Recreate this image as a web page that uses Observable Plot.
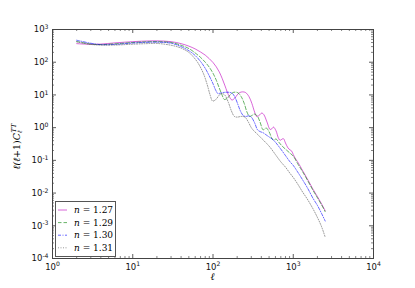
<!DOCTYPE html>
<html><head><meta charset="utf-8">
<script src="https://cdn.jsdelivr.net/npm/d3@7"></script>
<script src="https://cdn.jsdelivr.net/npm/@observablehq/plot@0.6"></script>
<style>
html,body{margin:0;padding:0;background:#fff;}
#wrap{position:relative;width:415px;height:288px;overflow:hidden;background:#fff;}
#wrap svg{position:absolute;left:0;top:0;}
</style></head><body><div id="wrap"></div>
<script>
// ---- data ----
const labels = ["1.27", "1.29", "1.30", "1.31"];
const colors = ["#bf00bf", "#008000", "#0000ff", "#555555"];
const dashes = [null, "3.5,2", "3,1.5,1,1.5", "1,1.5"];

const ell127 = [2,3,4,6,10,15,20,30,40,50,60,70,80,90,100,110,120,130,140,150,160,172,185,200,215,235,255,280,305,330,350,375,405,430,470,515,540,567,610,650,685,720,755,800,860,910,960,1000,1050,1100,1150,1300,1500,1750,2000,2250,2500];
const cl127  = [370,352,358,390,425,445,450,425,370,310,255,205,165,128,98,72,50,32,20,12.5,8.8,7.0,7.8,10,11.8,12.4,11.8,9,5.5,3.0,2.2,2.35,2.8,2.5,1.5,0.88,0.92,1.04,0.8,0.5,0.41,0.44,0.46,0.34,0.24,0.21,0.19,0.15,0.12,0.1,0.085,0.05,0.027,0.0135,0.0078,0.0047,0.0029];

const ell129 = [2,3,4,6,10,15,20,30,40,50,60,70,80,90,100,110,120,130,138,150,162,175,188,205,225,245,265,285,305,330,355,385,420,440,460,500,535,560,585,610,660,720,800,900,1000,1150,1300,1500,1750,2000,2250,2500];
const cl129  = [430,358,345,365,400,420,425,400,330,262,192,140,100,70,46,28,16,9.8,7.3,7.8,9.8,11.6,12.2,11.6,8.8,5.5,3.0,2.2,2.35,2.6,2.3,1.5,0.86,0.9,0.98,0.75,0.5,0.42,0.43,0.45,0.36,0.28,0.22,0.17,0.135,0.075,0.046,0.025,0.0125,0.0072,0.0044,0.0027];

const ell130 = [2,3,4,6,10,20,30,40,50,60,70,80,90,100,108,115,125,140,160,175,190,205,220,240,260,280,300,330,360,390,420,460,500,565,700,800,912,1000,1150,1300,1500,1770,2000,2250,2500];
const cl130  = [470,380,345,350,385,410,380,300,225,160,105,65,38,22,14,11,11.5,12,12,11,8,5,3.2,2.3,2.2,2.3,2.1,1.4,0.85,0.75,0.7,0.6,0.52,0.42,0.22,0.14,0.09,0.07,0.042,0.026,0.0145,0.0068,0.0042,0.0024,0.0014];

const ell131 = [2,3,4,6,10,15,20,30,40,50,57,65,76,85,92,99,110,120,130,140,155,170,185,200,225,250,275,300,320,360,410,465,515,600,700,800,912,1000,1150,1300,1500,1750,2000,2250,2500];
const cl131  = [420,350,335,335,355,370,375,330,270,200,145,95,45,20,10,6.5,7.5,10,11,10,6,3.2,2.2,2.1,2.2,2.1,1.5,1.0,0.82,0.62,0.45,0.33,0.25,0.15,0.09,0.062,0.04,0.03,0.018,0.011,0.0065,0.0034,0.0018,0.00095,0.00045];

const xMajor = [1, 10, 100, 1000, 10000];
const xMajorLabels = ["0", "1", "2", "3", "4"];
const yMajor = [1e-4, 1e-3, 1e-2, 1e-1, 1, 10, 100, 1000];
const yMajorLabels = ["-4", "-3", "-2", "-1", "0", "1", "2", "3"];

// ---- build ----
const W = 415, H = 288, mL = 52, mR = 42, mT = 29, mB = 30;
const iW = W - mL - mR, iH = H - mT - mB;
const ells = [ell127, ell129, ell130, ell131];
const cls = [cl127, cl129, cl130, cl131];
const series = ells.map((e, k) => e.map((l, i) => ({l, v: cls[k][i]})));

const xMinor = d3.scaleLog().domain([1, 1e4]).ticks().filter(t => !xMajor.includes(t));
const yMinor = d3.scaleLog().domain([1e-4, 1e3]).ticks().filter(t => !yMajor.some(m => Math.abs(m - t) / t < 1e-9));

const tickColor = "#333";
const marks = [];
series.forEach((s, k) => {
  marks.push(Plot.line(s, {x: "l", y: "v", stroke: colors[k], strokeOpacity: 0.6, strokeWidth: 1,
    strokeDasharray: dashes[k] || undefined, curve: "catmull-rom"}));
});
// inward ticks on all four sides
marks.push(
  Plot.ruleX(xMajor, {x: d => d, insetTop: iH - 4, stroke: tickColor, strokeWidth: 0.8}),
  Plot.ruleX(xMajor, {x: d => d, insetBottom: iH - 4, stroke: tickColor, strokeWidth: 0.8}),
  Plot.ruleX(xMinor, {x: d => d, insetTop: iH - 2, stroke: tickColor, strokeWidth: 0.6}),
  Plot.ruleX(xMinor, {x: d => d, insetBottom: iH - 2, stroke: tickColor, strokeWidth: 0.6}),
  Plot.ruleY(yMajor, {y: d => d, insetRight: iW - 4, stroke: tickColor, strokeWidth: 0.8}),
  Plot.ruleY(yMajor, {y: d => d, insetLeft: iW - 4, stroke: tickColor, strokeWidth: 0.8}),
  Plot.ruleY(yMinor, {y: d => d, insetRight: iW - 2, stroke: tickColor, strokeWidth: 0.6}),
  Plot.ruleY(yMinor, {y: d => d, insetLeft: iW - 2, stroke: tickColor, strokeWidth: 0.6}),
  Plot.axisX(xMajor, {tickSize: 0, tickPadding: 5, fontSize: 8.5, fill: "#111",
    tickFormat: d => "10^" + xMajorLabels[xMajor.indexOf(d)], label: null}),
  Plot.axisY(yMajor, {tickSize: 0, tickPadding: 4, fontSize: 8.5, fill: "#111",
    tickFormat: d => "10^" + yMajorLabels[yMajor.findIndex(m => Math.abs(m - d) / d < 1e-9)], label: null}),
  Plot.frame({stroke: "#444", strokeWidth: 1})
);

const chart = Plot.plot({
  width: W, height: H,
  marginLeft: mL, marginRight: mR, marginTop: mT, marginBottom: mB,
  x: {type: "log", domain: [1, 1e4]},
  y: {type: "log", domain: [1e-4, 1e3]},
  style: {fontFamily: "DejaVu Sans, sans-serif", background: "#fff", overflow: "visible"},
  marks
});

// superscript exponents in tick labels
d3.select(chart).selectAll("g[aria-label$='tick label'] text").each(function() {
  const t = this.textContent;
  const m = /^10\^(.*)$/.exec(t);
  if (!m) return;
  const sel = d3.select(this);
  sel.text(null);
  sel.append("tspan").text("10");
  sel.append("tspan").attr("dy", "-0.5em").attr("font-size", "0.72em").text(m[1]);
});

document.getElementById("wrap").appendChild(chart);

// overlay: axis titles and legend
const ov = d3.select("#wrap").append("svg").attr("width", W).attr("height", H)
  .style("font-family", "DejaVu Serif, serif");

// x label
ov.append("text").attr("x", mL + iW / 2).attr("y", 280).attr("text-anchor", "middle")
  .attr("font-size", 10).attr("font-style", "italic").text("ℓ");

// y label
const yl = ov.append("text").attr("transform", `translate(20,${mT + iH / 2 + 3}) rotate(-90)`)
  .attr("text-anchor", "middle").attr("font-size", 9.5).attr("font-style", "italic");
yl.append("tspan").text("ℓ(ℓ");
yl.append("tspan").attr("font-style", "normal").text("+1)");
yl.append("tspan").text("C");
yl.append("tspan").attr("font-size", "0.7em").attr("dy", "0.3em").text("ℓ");
yl.append("tspan").attr("font-size", "0.7em").attr("dy", "-0.85em").attr("dx", "-0.35em").text("TT");

// legend
const lg = ov.append("g");
lg.append("rect").attr("x", 55.5).attr("y", 201.5).attr("width", 60).attr("height", 55)
  .attr("fill", "#fff").attr("stroke", "#555").attr("stroke-width", 1);
labels.forEach((lab, k) => {
  const yy = 210 + k * 12.6;
  lg.append("line").attr("x1", 58).attr("x2", 67).attr("y1", yy).attr("y2", yy)
    .attr("stroke", colors[k]).attr("stroke-opacity", 0.6).attr("stroke-width", 1)
    .attr("stroke-dasharray", dashes[k]);
  const t = lg.append("text").attr("x", 74).attr("y", yy + 3).attr("font-size", 9);
  t.append("tspan").attr("font-style", "italic").text("n");
  t.append("tspan").text(" = " + lab);
});
</script>
</body></html>
